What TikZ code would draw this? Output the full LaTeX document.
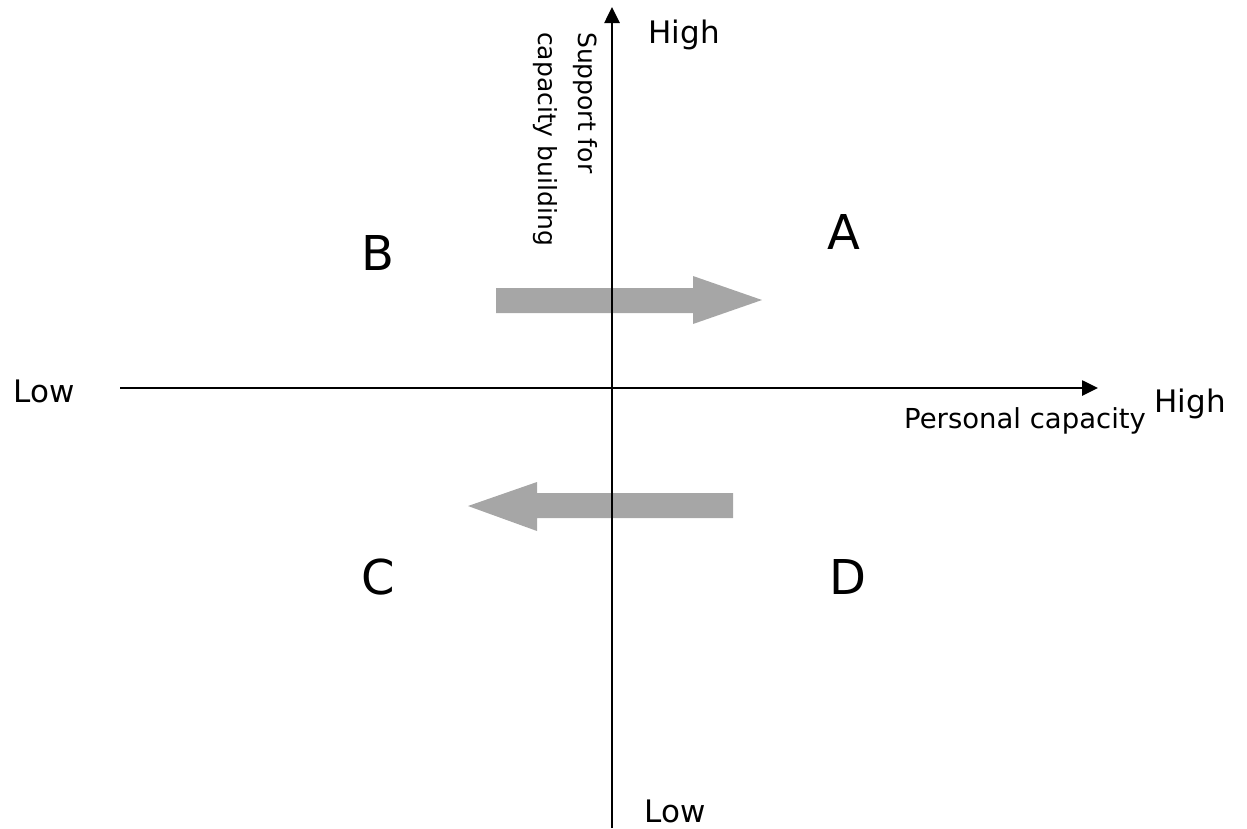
\documentclass[tikz,border=0pt]{standalone}
\usepackage{fontspec}
\setmainfont{DejaVu Sans}
\usetikzlibrary{arrows.meta}
\definecolor{arrowgray}{HTML}{A6A6A6}
\tikzset{
  axis/.style={line width=2.6pt, -{Triangle[length=16pt,width=15pt]}},
  lbl/.style={inner sep=0pt, anchor=base, font=\fontsize{31}{36}\selectfont},
  xlbl/.style={inner sep=0pt, font=\fontsize{27.5}{33}\selectfont},
  ylbl/.style={inner sep=0pt, font=\fontsize{25}{40}\selectfont},
  quad/.style={inner sep=0pt, font=\fontsize{48}{56}\selectfont},
  bigarrow/.style={fill=arrowgray, draw=none}
}
\begin{document}
\begin{tikzpicture}[x=1pt,y=-1pt]
\useasboundingbox (0,0) rectangle (1247,828);
% gray arrows
\fill[bigarrow] (496,288) -- (693,288) -- (693,276) -- (762,300) -- (693,324) -- (693,313) -- (496,313) -- cycle;
\fill[bigarrow] (733,493) -- (537,493) -- (537,482) -- (468,506) -- (537,531) -- (537,518) -- (733,518) -- cycle;
% axes
\coordinate (vbot) at (612,828);
\coordinate (vtop) at (612,7);
\coordinate (hleft) at (120,388);
\coordinate (hright) at (1098,388);
\draw[axis] (vbot) -- (vtop);
\draw[axis] (hleft) -- (hright);
% labels
\node[lbl] (hightop) at (684,43) {High};
\node[lbl] (lowbot) at (675,822) {Low};
\node[lbl] (lowleft) at (44,402) {Low};
\node[lbl] (highright) at (1190,412) {High};
\node[xlbl, anchor=base west] (xlabel) at (904,428) {Personal capacity};
\node[ylbl, rotate=-90, align=left, anchor=north west] (ylabel) at (598,32) {Support for\\capacity building};
% quadrant letters
\node[quad] (qA) at (844,232) {A};
\node[quad] (qB) at (378,253) {B};
\node[quad] (qC) at (378,577) {C};
\node[quad] (qD) at (848,577) {D};
\end{tikzpicture}
\end{document}
